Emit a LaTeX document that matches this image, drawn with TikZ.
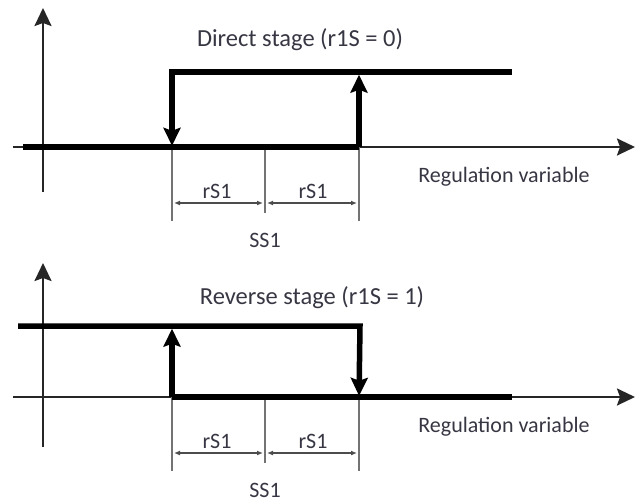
\documentclass[tikz,border=0pt]{standalone}
\usepackage{fontspec}
\setmainfont{Carlito}
\usetikzlibrary{arrows.meta}

\definecolor{schrift}{RGB}{55,55,68}

\begin{document}
\begin{tikzpicture}[x=1pt, y=-1pt,
        every node/.style={font=\fontsize{22}{26}\selectfont, text=schrift, inner sep=0pt},
        titel/.style={font=\fontsize{24.5}{28}\selectfont},
        achse/.style={draw=black!85, line width=2.4pt,
                      -{Stealth[length=18pt,width=17pt,inset=3pt]}},
        schalt/.style={draw=black, line width=5.5pt,
                       -{Stealth[length=18pt,width=17pt,inset=3pt]}},
        balken/.style={draw=black, line width=5.5pt},
        masslinie/.style={draw=black!55, line width=1.4pt},
        masspfeil/.style={draw=black!70, line width=1.2pt,
                          {Latex[length=6pt,width=5pt]}-{Latex[length=6pt,width=5pt]}}
    ]
        \useasboundingbox (0,0) rectangle (641,504);

        % Direct stage
        \coordinate (oX0) at (13,147);
        \coordinate (oX1) at (635,147);
        \coordinate (oY0) at (43,192);
        \coordinate (oY1) at (43,8);
        \coordinate (oL)  at (23,147);
        \coordinate (oAt) at (172,72);
        \coordinate (oBt) at (359,72);
        \coordinate (oE)  at (512,72);
        \node[titel] (dir) at (300,40) {Direct stage (r1S = 0)};

        % Reverse stage
        \coordinate (uX0) at (13,397);
        \coordinate (uX1) at (635,397);
        \coordinate (uY0) at (43,447);
        \coordinate (uY1) at (43,263);
        \coordinate (uL)  at (18,326);
        \coordinate (uAt) at (172,326);
        \coordinate (uBt) at (360,326);
        \coordinate (uE)  at (512,397);
        \node[titel] (rev) at (312,298) {Reverse stage (r1S = 1)};

        % Masse, Achsbeschriftung
        \foreach \p/\y in {o/147, u/397} {
            \coordinate (\p A)  at (172,\y);
            \coordinate (\p M)  at (265,\y);
            \coordinate (\p B)  at (359,\y);
            \coordinate (\p Af) at (172,\y+74);
            \coordinate (\p Mf) at (265,\y+66);
            \coordinate (\p Bf) at (359,\y+74);
            \coordinate (\p P1) at (174,\y+56);
            \coordinate (\p P2) at (263,\y+56);
            \coordinate (\p P3) at (267,\y+56);
            \coordinate (\p P4) at (357,\y+56);
            \node (\p r1) at (217,\y+44) {rS1};
            \node (\p r2) at (313,\y+44) {rS1};
            \node (\p ss) at (265,\y+93) {SS1};
            \node (\p rv) at (504,\y+30) {Regulation variable};
        }

        \foreach \p in {o,u} {
            \draw[achse] (\p X0) -- (\p X1);
            \draw[achse] (\p Y0) -- (\p Y1);
            \draw[masslinie] (\p A) -- (\p Af);
            \draw[masslinie] (\p M) -- (\p Mf);
            \draw[masslinie] (\p B) -- (\p Bf);
            \draw[masspfeil] (\p P1) -- (\p P2);
            \draw[masspfeil] (\p P3) -- (\p P4);
        }

        \draw[balken] (oL) -- (oB);
        \draw[schalt, shorten >=1.2pt] (oE) -- (oAt) -- (oA);
        \draw[schalt, shorten >=2.7pt] (oB) -- (oBt);

        \draw[balken] (uE) -- (uA);
        \draw[schalt, shorten >=2.7pt] (uA) -- (uAt);
        \draw[schalt, shorten >=1.2pt] (uL) -- (uBt) -- (uB);
    \end{tikzpicture}
\end{document}
